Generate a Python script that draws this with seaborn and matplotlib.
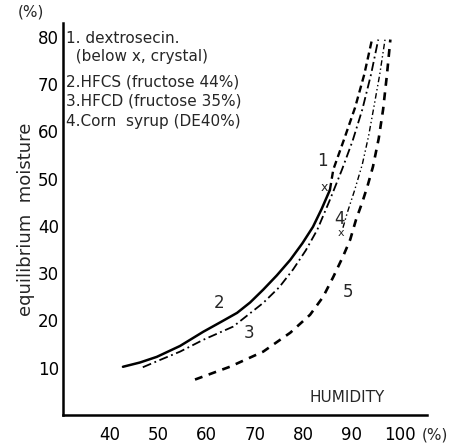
import numpy as np
import pandas as pd
import matplotlib
matplotlib.use("Agg")
import matplotlib.pyplot as plt
import seaborn as sns

# curves: relative humidity (%) -> equilibrium moisture (%)
dextrose_x = [85.5, 86.2, 88.5, 90.7, 92.6, 94.2]
dextrose_y = [47.6, 51.9, 58.5, 65.0, 72.0, 79.4]

hfcs_x = [42.7, 46.2, 49.7, 54.5, 59.3, 63.0, 66.3, 69.0, 71.7, 74.5, 77.3, 79.8, 82.0, 83.8, 85.5]
hfcs_y = [10.2, 11.1, 12.3, 14.6, 17.6, 19.7, 21.6, 23.8, 26.5, 29.5, 32.8, 36.3, 39.8, 43.6, 47.6]

hfcd_x = [46.8, 50.5, 54.5, 59.3, 65.5, 71.7, 75.0, 77.9, 80.5, 82.9, 85.5, 88.0, 90.2, 92.2, 94.0, 95.5]
hfcd_y = [10.1, 11.7, 13.4, 15.9, 18.7, 23.7, 27.0, 30.8, 34.8, 39.2, 45.5, 51.9, 58.0, 64.6, 72.0, 79.4]

corn_x = [88.2, 89.1, 90.6, 92.2, 93.5, 94.5, 95.8, 96.9]
corn_y = [39.6, 42.8, 47.5, 53.0, 59.0, 64.6, 72.0, 79.4]

c5_x = [57.6, 64.8, 71.7, 77.3, 81.4, 84.1, 86.2, 88.2, 89.7, 90.9, 92.2, 93.3,
        94.4, 95.6, 96.5, 97.3, 98.0]
c5_y = [7.5, 10.2, 13.4, 17.4, 21.2, 25.0, 29.2, 33.5, 37.1, 41.3, 45.0, 48.5,
        52.5, 58.5, 64.6, 72.0, 79.4]

legend_lines = ["1. dextrosecin.",
                "  (below x, crystal)",
                "2.HFCS (fructose 44%)",
                "3.HFCD (fructose 35%)",
                "4.Corn  syrup (DE40%)"]

x_ticks = [40, 50, 60, 70, 80, 90, 100]
y_ticks = [10, 20, 30, 40, 50, 60, 70, 80]

sns.set_style("white")
plt.rcParams['font.family'] = ['DejaVu Sans']

fig = plt.figure(figsize=(4.51, 4.44), dpi=100)
ax = fig.add_axes([0.1397, 0.0653, 0.8073, 0.8829])

ink = "black"
sns.lineplot(x=hfcs_x, y=hfcs_y, ax=ax, color=ink, lw=1.8, sort=False)
sns.lineplot(x=dextrose_x, y=dextrose_y, ax=ax, color=ink, lw=1.7, sort=False,
             linestyle=(0, (3, 1.8)))
sns.lineplot(x=hfcd_x, y=hfcd_y, ax=ax, color=ink, lw=1.3, sort=False,
             linestyle=(0, (5, 2, 1, 2)))
sns.lineplot(x=corn_x, y=corn_y, ax=ax, color=ink, lw=1.0, sort=False,
             linestyle=(0, (4, 2, 1, 2, 1, 2)))
sns.lineplot(x=c5_x, y=c5_y, ax=ax, color=ink, lw=1.9, sort=False,
             linestyle=(0, (3, 2.5)))

# crystallisation marks
ax.text(84.3, 48.2, "x", fontsize=9, ha="center", va="center")
ax.text(87.8, 38.5, "x", fontsize=8, ha="center", va="center")

# curve numbers
ax.text(84.0, 53.8, "1", fontsize=12, ha="center", va="center")
ax.text(62.6, 23.7, "2", fontsize=12, ha="center", va="center")
ax.text(68.8, 17.3, "3", fontsize=12, ha="center", va="center")
ax.text(87.4, 41.5, "4", fontsize=12, ha="center", va="center")
ax.text(89.3, 26.0, "5", fontsize=12, ha="center", va="center")

# legend block written into the plot like the original
offsets = [0, 3.7, 9.1, 13.3, 17.5]
for line, off in zip(legend_lines, offsets):
    ax.text(31.0, 79.6 - off, line, fontsize=11, ha="left", va="center")

ax.text(89.0, 3.8, "HUMIDITY", fontsize=11, ha="center", va="center")

ax.set_xlim(30.3, 105.6)
ax.set_ylim(0, 82.9)
ax.set_xticks(x_ticks)
ax.set_xticklabels([str(t) for t in x_ticks])
ax.set_yticks(y_ticks)
ax.set_yticklabels([str(t) for t in y_ticks])
ax.tick_params(axis="both", direction="in", length=4, width=1.2, labelsize=12,
               colors=ink)
ax.tick_params(axis="x", pad=8)
ax.tick_params(axis="y", pad=3)

for side in ["top", "right"]:
    ax.spines[side].set_visible(False)
for side in ["left", "bottom"]:
    ax.spines[side].set_linewidth(1.8)
    ax.spines[side].set_color(ink)

ax.set_ylabel("equilibrium  moisture", fontsize=13, labelpad=2)
fig.text(0.04, 0.972, "(%)", fontsize=11, ha="left", va="center")
fig.text(0.965, 0.02, "(%)", fontsize=11, ha="center", va="center")

fig.savefig("out.png", dpi=100)
